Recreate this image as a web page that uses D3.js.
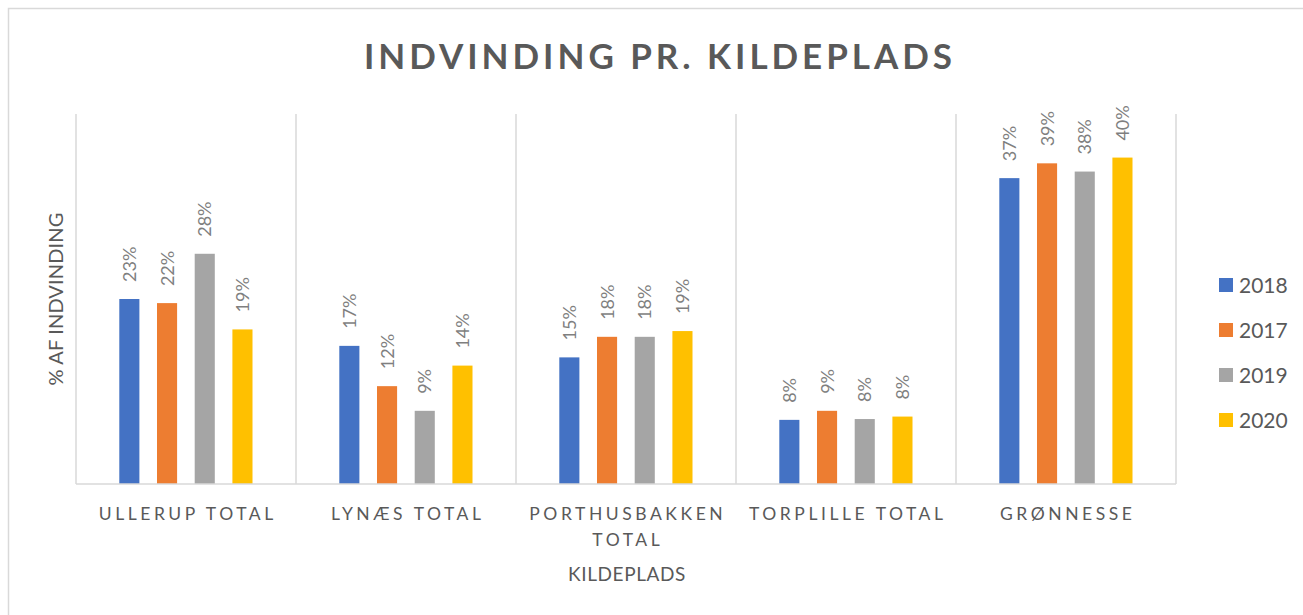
<!DOCTYPE html>
<html>
<head>
<meta charset="utf-8">
<script src="https://cdn.jsdelivr.net/npm/d3@7"></script>
<style>
  html, body { margin: 0; padding: 0; background: #fff; }
  svg { display: block; }
  text { font-family: Lato, "Open Sans", sans-serif; }
</style>
</head>
<body>
<svg id="chart" width="1303" height="615"></svg>
<script>
// ---- data ----
const categories = ["Ullerup Total", "Lynæs Total", "Porthusbakken Total", "Torplille Total", "Grønnesse"];
const seriesNames = ["2018", "2017", "2019", "2020"];
const seriesColors = ["#4472C4", "#ED7D31", "#A5A5A5", "#FFC000"];
const values2018 = [22.5, 16.8, 15.4, 7.8, 37.2];
const values2017 = [22.0, 11.9, 17.9, 8.9, 39.0];
const values2019 = [28.0, 8.9, 17.9, 7.9, 38.0];
const values2020 = [18.8, 14.4, 18.6, 8.2, 39.7];
const yMax = 45;
const titleText = "INDVINDING PR. KILDEPLADS";
const xTitle = "KILDEPLADS";
const yTitle = "% AF INDVINDING";

const seriesValues = [values2018, values2017, values2019, values2020];

// ---- layout ----
const svg = d3.select("#chart");
const W = 1303, H = 615;
const plot = { left: 76, right: 1176, top: 114, bottom: 484 };
const textColor = "#595959";
const gridColor = "#d9d9d9";

// outer border
svg.append("rect")
  .attr("x", 8.5).attr("y", 8.5)
  .attr("width", W + 20).attr("height", H + 20)
  .attr("fill", "#fff").attr("stroke", gridColor).attr("stroke-width", 1.5);

function fitSpacing(sel, target) {
  const n = sel.text().length;
  sel.attr("letter-spacing", 0);
  const w = sel.node().getComputedTextLength();
  const ls = (target - w) / n;
  sel.attr("letter-spacing", ls);
  return ls;
}

// title
const title = svg.append("text")
  .attr("x", 660).attr("y", 69)
  .attr("text-anchor", "middle")
  .attr("font-size", 35).attr("font-weight", 700)
  .attr("fill", textColor)
  .text(titleText);
fitSpacing(title, 592);

// scales
const x0 = d3.scaleBand().domain(categories).range([plot.left, plot.right]).padding(0);
const x1 = d3.scaleBand().domain(seriesNames)
  .range([43.3, 176.5]).paddingInner(0.467).paddingOuter(0);
const y = d3.scaleLinear().domain([0, yMax]).range([plot.bottom, plot.top]);

// category separator lines (Excel-style vertical gridlines)
const sepPositions = categories.map(c => x0(c)).concat([plot.right]);
svg.append("g").selectAll("line").data(sepPositions).join("line")
  .attr("x1", d => d).attr("x2", d => d)
  .attr("y1", plot.top).attr("y2", plot.bottom)
  .attr("stroke", gridColor).attr("stroke-width", 1.5);

// bars
const rows = [];
categories.forEach((c, ci) => {
  seriesNames.forEach((s, si) => {
    rows.push({ cat: c, series: s, value: seriesValues[si][ci], color: seriesColors[si] });
  });
});

const barG = svg.append("g");
barG.selectAll("rect").data(rows).join("rect")
  .attr("x", d => x0(d.cat) + x1(d.series))
  .attr("y", d => y(d.value))
  .attr("width", x1.bandwidth())
  .attr("height", d => y(0) - y(d.value))
  .attr("fill", d => d.color);

// data labels
barG.selectAll("text").data(rows).join("text")
  .attr("transform", d => `translate(${x0(d.cat) + x1(d.series) + x1.bandwidth() / 2},${y(d.value) - 17}) rotate(-90)`)
  .attr("dy", "0.36em")
  .attr("text-anchor", "start")
  .attr("font-size", 18)
  .attr("fill", "#7f7f7f")
  .text(d => Math.round(d.value) + "%");

// baseline axis
svg.append("line")
  .attr("x1", plot.left).attr("x2", plot.right)
  .attr("y1", plot.bottom).attr("y2", plot.bottom)
  .attr("stroke", gridColor).attr("stroke-width", 1.5);

// x tick labels with letter spacing + wrapping
const xAxisG = svg.append("g");
// measure spacing from first label
const probe = xAxisG.append("text").attr("font-size", 17.5).text(categories[0].toUpperCase());
const ls = fitSpacing(probe, 178);
probe.remove();

categories.forEach(c => {
  const cx = x0(c) + x0.bandwidth() / 2;
  const words = c.toUpperCase().split(" ");
  const t = xAxisG.append("text")
    .attr("text-anchor", "middle")
    .attr("font-size", 17.5)
    .attr("letter-spacing", ls)
    .attr("fill", textColor);
  // wrap
  let lines = [];
  let line = [];
  const maxW = x0.bandwidth() - 10;
  const tmp = xAxisG.append("text").attr("font-size", 17.5).attr("letter-spacing", ls);
  words.forEach(w => {
    const test = line.concat([w]).join(" ");
    tmp.text(test);
    if (tmp.node().getComputedTextLength() > maxW && line.length) {
      lines.push(line.join(" "));
      line = [w];
    } else {
      line.push(w);
    }
  });
  lines.push(line.join(" "));
  tmp.remove();
  lines.forEach((l, i) => {
    t.append("tspan").attr("x", cx + ls / 2).attr("y", 520 + i * 26).text(l);
  });
});

// x axis title
const xt = svg.append("text")
  .attr("x", (plot.left + plot.right) / 2 + 1).attr("y", 581)
  .attr("text-anchor", "middle")
  .attr("font-size", 19).attr("fill", textColor)
  .text(xTitle);
fitSpacing(xt, 118);

// y axis title
const yt = svg.append("text")
  .attr("transform", `translate(63,${(plot.top + plot.bottom) / 2}) rotate(-90)`)
  .attr("text-anchor", "middle")
  .attr("font-size", 20).attr("fill", textColor)
  .text(yTitle);
fitSpacing(yt, 173);

// legend
const legend = svg.append("g");
seriesNames.forEach((s, i) => {
  const cy = 285 + i * 45;
  legend.append("rect")
    .attr("x", 1219).attr("y", cy - 7)
    .attr("width", 14).attr("height", 14)
    .attr("fill", seriesColors[i]);
  legend.append("text")
    .attr("x", 1239).attr("y", cy + 8)
    .attr("font-size", 21).attr("fill", textColor)
    .text(s);
});
</script>
</body>
</html>
